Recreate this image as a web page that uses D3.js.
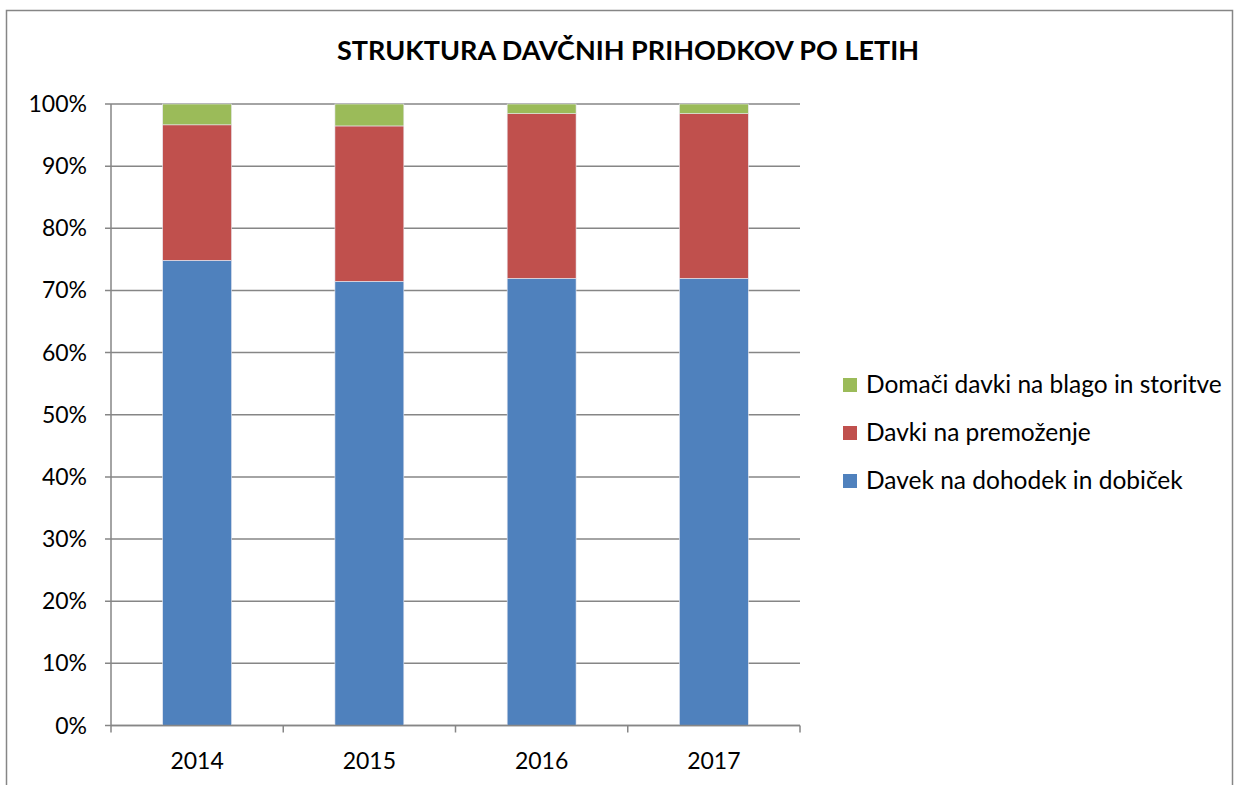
<!DOCTYPE html>
<html>
<head>
<meta charset="utf-8">
<script src="https://cdn.jsdelivr.net/npm/d3@7"></script>
<style>
  body { margin: 0; background: #fff; }
  text { font-family: Lato, "Open Sans", sans-serif; fill: #000; }
</style>
</head>
<body>
<svg id="chart" width="1237" height="785"></svg>
<script>
var years = ['2014', '2015', '2016', '2017'];
var seriesNames = ['Davek na dohodek in dobiček', 'Davki na premoženje', 'Domači davki na blago in storitve'];
var davekDohodek = [74.85, 71.47, 71.95, 71.95];
var davkiPremozenje = [21.8, 25.0, 26.5, 26.5];
var domaciDavki = [3.35, 3.53, 1.55, 1.55];
var yTicks = [0, 10, 20, 30, 40, 50, 60, 70, 80, 90, 100];
var colors = ['#4F81BD', '#C0504D', '#9BBB59'];

var svg = d3.select('#chart');
var plotLeft = 111, plotRight = 800, plotTop = 104, plotBottom = 725.5;

// outer frame
svg.append('rect')
    .attr('x', 6.5).attr('y', 10.5)
    .attr('width', 1226).attr('height', 800)
    .attr('fill', 'none').attr('stroke', '#868686').attr('stroke-width', 1.5);

svg.append('text')
    .attr('x', 628).attr('y', 60)
    .attr('text-anchor', 'middle')
    .style('font-size', '27px').style('font-weight', 'bold')
    .text('STRUKTURA DAVČNIH PRIHODKOV PO LETIH');

var x = d3.scaleBand().domain(years).range([plotLeft, plotRight]).paddingInner(0.6).paddingOuter(0.3);
var y = d3.scaleLinear().domain([0, 100]).range([plotBottom, plotTop]);

// grid
svg.append('g').selectAll('line').data(yTicks).enter().append('line')
    .attr('x1', plotLeft - 6).attr('x2', plotRight)
    .attr('y1', function(d){ return y(d); }).attr('y2', function(d){ return y(d); })
    .attr('stroke', '#868686').attr('stroke-width', 1.5);

svg.append('g').selectAll('text').data(yTicks).enter().append('text')
    .attr('x', 87).attr('y', function(d){ return y(d) + 8; })
    .attr('text-anchor', 'end')
    .style('font-size', '23px')
    .text(function(d){ return d + '%'; });

// stacked bars
var rows = years.map(function(yr, i){
    return { year: yr, a: davekDohodek[i], b: davkiPremozenje[i], c: domaciDavki[i] };
});
var stack = d3.stack().keys(['a', 'b', 'c'])(rows);

svg.append('g').selectAll('g').data(stack).enter().append('g')
    .attr('fill', function(d, i){ return colors[i]; })
    .selectAll('rect').data(function(d){ return d; }).enter().append('rect')
    .attr('x', function(d){ return x(d.data.year); })
    .attr('width', x.bandwidth())
    .attr('y', function(d){ return y(d[1]); })
    .attr('height', function(d){ return y(d[0]) - y(d[1]); })
    .attr('stroke', '#e8e8f0').attr('stroke-width', 0.6);

// axes lines
svg.append('line')
    .attr('x1', plotLeft).attr('x2', plotLeft).attr('y1', plotTop).attr('y2', plotBottom)
    .attr('stroke', '#868686').attr('stroke-width', 1.5);
svg.append('line')
    .attr('x1', plotLeft).attr('x2', plotRight).attr('y1', plotBottom).attr('y2', plotBottom)
    .attr('stroke', '#868686').attr('stroke-width', 1.5);

var xTickPos = [plotLeft].concat(years.map(function(yr){ return x(yr) + x.bandwidth() / 2 + x.step() / 2; }));
svg.append('g').selectAll('line').data(xTickPos).enter().append('line')
    .attr('x1', function(d){ return d; }).attr('x2', function(d){ return d; })
    .attr('y1', plotBottom).attr('y2', plotBottom + 7)
    .attr('stroke', '#868686').attr('stroke-width', 1.5);

svg.append('g').selectAll('text').data(years).enter().append('text')
    .attr('x', function(d){ return x(d) + x.bandwidth() / 2; })
    .attr('y', 769)
    .attr('text-anchor', 'middle')
    .style('font-size', '23px')
    .text(function(d){ return d; });

// legend, top item is last series
var legendOrder = [2, 1, 0];
var lg = svg.append('g').selectAll('g').data(legendOrder).enter().append('g')
    .attr('transform', function(d, i){ return 'translate(843,' + (378 + i * 48) + ')'; });
lg.append('rect').attr('width', 14).attr('height', 14)
    .attr('fill', function(d){ return colors[d]; });
lg.append('text').attr('x', 23).attr('y', 15)
    .style('font-size', '24.5px')
    .text(function(d){ return seriesNames[d]; });
</script>
</body>
</html>
